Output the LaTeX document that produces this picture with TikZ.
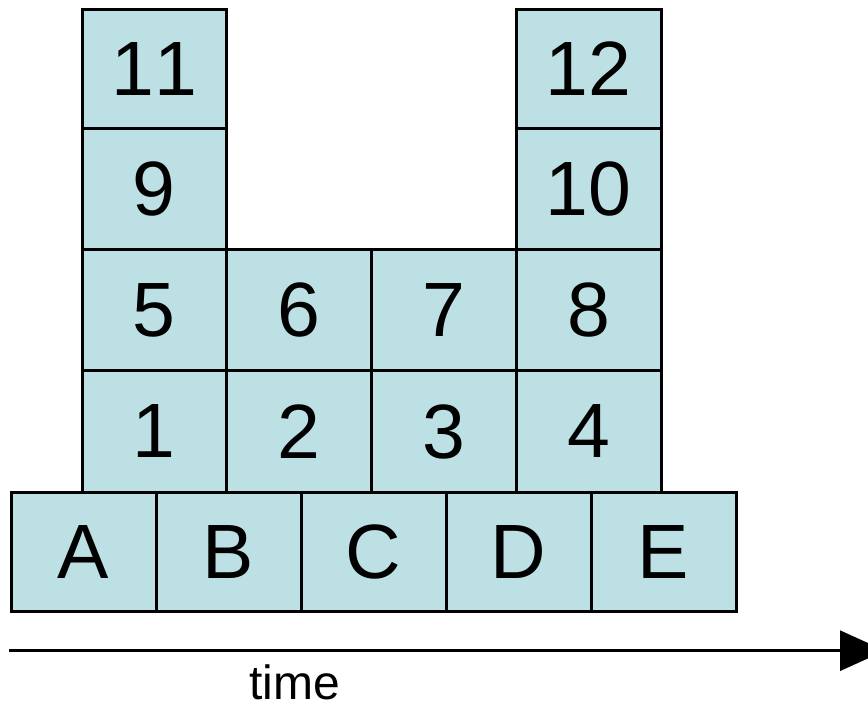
\documentclass[tikz,border=0pt]{standalone}
\usepackage{fontspec}
\setmainfont[Kerning=Off]{Liberation Sans}
\usetikzlibrary{arrows.meta}
\definecolor{cellfill}{RGB}{188,224,227}
\begin{document}
\begin{tikzpicture}[x=1pt,y=-1pt,
  cell/.style={draw=black, fill=cellfill, line width=3pt, inner sep=0pt,
    minimum width=144.8pt, font=\fontsize{77}{80}\selectfont},
  rowa/.style={cell, minimum height=119pt},
  rowb/.style={cell, minimum height=121.2pt},
  rowc/.style={cell, minimum height=120.8pt},
  rowd/.style={cell, minimum height=122pt},
  base/.style={cell, minimum width=145pt, minimum height=119pt},
  timeline/.style={line width=3pt, -{Triangle[length=45pt,width=40pt]}}]
\useasboundingbox (0,0) rectangle (868,704);
% top rows
\node[rowa] (c11) at (154.4,69) {11};
\node[rowa] (c12) at (588.8,69) {12};
\node[rowb] (c9) at (154.4,189.1) {9};
\node[rowb] (c10) at (588.8,189.1) {10};
% middle row
\node[rowc] (c5) at (154.4,310.1) {5};
\node[rowc] (c6) at (299.2,310.1) {6};
\node[rowc] (c7) at (444.0,310.1) {7};
\node[rowc] (c8) at (588.8,310.1) {8};
% lower row
\node[rowd] (c1) at (154.4,431.5) {1};
\node[rowd] (c2) at (299.2,431.5) {2};
\node[rowd] (c3) at (444.0,431.5) {3};
\node[rowd] (c4) at (588.8,431.5) {4};
% base row
\node[base] (A) at (83.5,552) {A};
\node[base] (B) at (228.5,552) {B};
\node[base] (C) at (373.5,552) {C};
\node[base] (D) at (518.5,552) {D};
\node[base] (E) at (663.5,552) {E};
% time axis
\coordinate (t0) at (9,650.7);
\coordinate (t1) at (885,650.7);
\draw[timeline] (t0) -- (t1);
\node[anchor=base, inner sep=0pt, font=\fontsize{48}{50}\selectfont] (time) at (294.5,699) {time};
\end{tikzpicture}
\end{document}
